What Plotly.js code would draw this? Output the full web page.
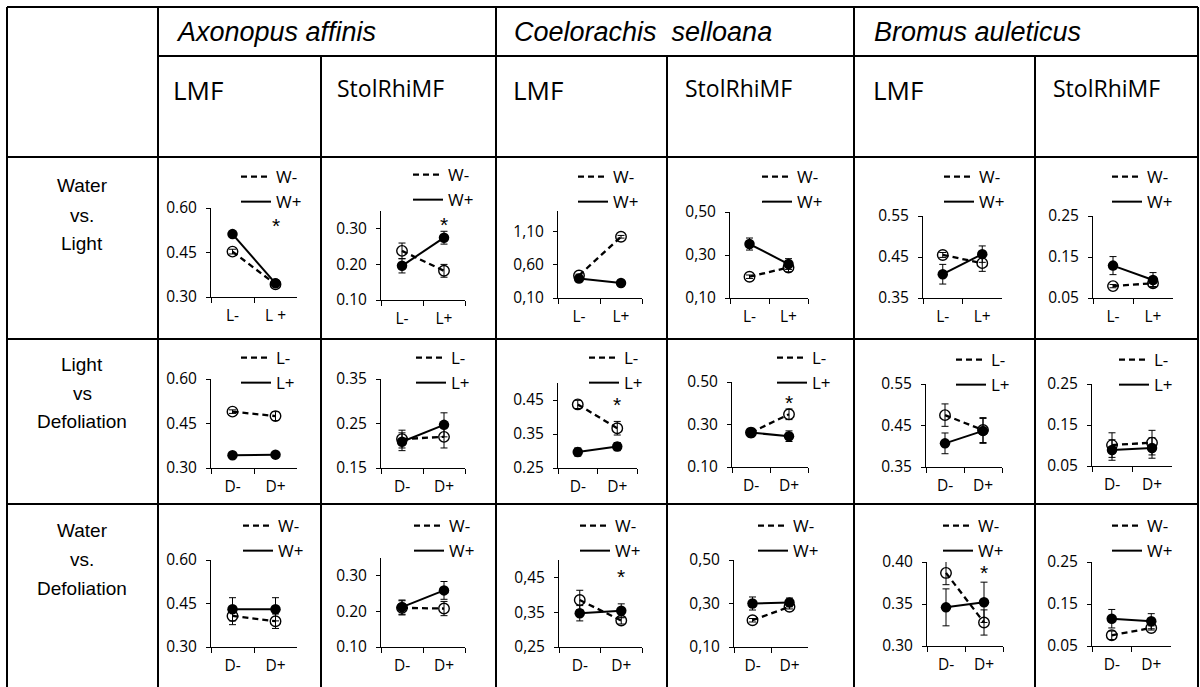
<!DOCTYPE html>
<html><head><meta charset="utf-8">
<script src="https://cdn.plot.ly/plotly-3.0.1.min.js"></script>
<style>html,body{margin:0;padding:0;background:#fff;} #chart{width:1200px;height:687px;}</style>
</head><body><div id="chart"></div>
<script>
// ================= DATA =================
const speciesNames = ['Axonopus affinis', 'Coelorachis\u00a0 selloana', 'Bromus auleticus'];
const traitNames = ['LMF', 'StolRhiMF', 'LMF', 'StolRhiMF', 'LMF', 'StolRhiMF'];
const rowLabelLines = [['Water', 'vs.', 'Light'], ['Light', 'vs', 'Defoliation'], ['Water', 'vs.', 'Defoliation']];

const lightCats = ['L-', 'L+'];
const lightCatsFirst = ['L-', 'L +'];
const defolCats = ['D-', 'D+'];
const waterLevels = ['W-', 'W+'];
const lightLevels = ['L-', 'L+'];

// Row 1: Water vs Light  (open/dashed = W-, filled/solid = W+)
const wlOpenMean   = [[0.453, 0.343], [0.238, 0.182], [0.436, 1.015], [0.199, 0.242], [0.455, 0.435], [0.079, 0.086]];
const wlOpenErr    = [[0.008, 0.005], [0.022, 0.018], [0.020, 0.020], [0.008, 0.020], [0.006, 0.020], [0.004, 0.008]];
const wlFilledMean = [[0.512, 0.346], [0.196, 0.275], [0.390, 0.325], [0.351, 0.258], [0.408, 0.457], [0.129, 0.094]];
const wlFilledErr  = [[0.010, 0.006], [0.020, 0.018], [0.020, 0.020], [0.028, 0.025], [0.024, 0.020], [0.022, 0.018]];

// Row 2: Light vs Defoliation  (open/dashed = L-, filled/solid = L+)
const ldOpenMean   = [[0.490, 0.475], [0.215, 0.220], [0.437, 0.367], [0.262, 0.348], [0.475, 0.439], [0.101, 0.107]];
const ldOpenErr    = [[0.006, 0.015], [0.020, 0.025], [0.012, 0.020], [0.015, 0.025], [0.027, 0.030], [0.030, 0.030]];
const ldFilledMean = [[0.343, 0.345], [0.209, 0.247], [0.297, 0.313], [0.262, 0.245], [0.407, 0.437], [0.089, 0.094]];
const ldFilledErr  = [[0.006, 0.006], [0.020, 0.027], [0.012, 0.012], [0.020, 0.025], [0.025, 0.030], [0.025, 0.025]];

// Row 3: Water vs Defoliation  (open/dashed = W-, filled/solid = W+)
const wdOpenMean   = [[0.407, 0.389], [0.210, 0.208], [0.385, 0.326], [0.223, 0.285], [0.387, 0.328], [0.0755, 0.093]];
const wdOpenErr    = [[0.030, 0.025], [0.020, 0.020], [0.028, 0.010], [0.008, 0.010], [0.014, 0.015], [0.010, 0.005]];
const wdFilledMean = [[0.430, 0.430], [0.212, 0.259], [0.347, 0.354], [0.300, 0.305], [0.346, 0.352], [0.115, 0.109]];
const wdFilledErr  = [[0.040, 0.040], [0.020, 0.025], [0.022, 0.020], [0.030, 0.020], [0.022, 0.024], [0.022, 0.018]];

// y axes (panels in reading order)
const yRanges = [[0.30,0.60],[0.10,0.35],[0.10,1.40],[0.10,0.50],[0.35,0.55],[0.05,0.25],
                 [0.30,0.60],[0.15,0.35],[0.25,0.50],[0.10,0.50],[0.35,0.55],[0.05,0.25],
                 [0.30,0.60],[0.10,0.35],[0.25,0.50],[0.10,0.50],[0.30,0.40],[0.05,0.25]];
const yTickVals = [[0.30,0.45,0.60],[0.10,0.20,0.30],[0.10,0.60,1.10],[0.10,0.30,0.50],[0.35,0.45,0.55],[0.05,0.15,0.25],
                   [0.30,0.45,0.60],[0.15,0.25,0.35],[0.25,0.35,0.45],[0.10,0.30,0.50],[0.35,0.45,0.55],[0.05,0.15,0.25],
                   [0.30,0.45,0.60],[0.10,0.20,0.30],[0.25,0.35,0.45],[0.10,0.30,0.50],[0.30,0.35,0.40],[0.05,0.15,0.25]];
const yTickText = [['0.30','0.45','0.60'],['0.10','0.20','0.30'],['0,10','0,60','1,10'],['0,10','0,30','0,50'],['0.35','0.45','0.55'],['0.05','0.15','0.25'],
                   ['0.30','0.45','0.60'],['0.15','0.25','0.35'],['0.25','0.35','0.45'],['0.10','0.30','0.50'],['0.35','0.45','0.55'],['0.05','0.15','0.25'],
                   ['0.30','0.45','0.60'],['0.10','0.20','0.30'],['0,25','0,35','0,45'],['0,10','0,30','0,50'],['0.30','0.35','0.40'],['0.05','0.15','0.25']];
// significance asterisks: panel index -> category index
const sigPanels = [0, 1, 8, 9, 14, 16];
const sigCategory = [1, 1, 1, 1, 1, 1];

// ================= LAYOUT CONFIG (pixels) =================
const W = 1200, H = 687;
const panelBox = [ // [x0, x1, yTop, yBottom]
  [211,297,208,297],[381,465,211,300],[558,642,211,298],[730,808,212,298],[923,1002,216,298],[1093,1173,216,298],
  [211,297,379,468],[381,465,379,468],[558,637,383,468],[732,808,382,467],[926,1002,384,467],[1092,1172,384,466],
  [211,297,560,647],[381,465,558,647],[559,642,560,647],[734,808,560,647],[927,1003,562,646],[1092,1171,562,646]];
const legendPos = [ // [dash end x, first item y]
  [271,179],[443,177],[608,179],[792,179],[974,179],[1142,179],
  [271,360],[446,360],[619,360],[807,360],[986,362],[1149,362],
  [273,528],[444,528],[610,528],[788,528],[973,528],[1142,528]];
const sigYFrac = [0.865, 0.90, 0.81, 0.82, 0.87, 0.94];

const colX = [7, 158, 321, 496, 667, 854, 1035, 1198];
const rowY = [7, 56, 157, 339, 504];
const rowLabelY = [[186,215,244],[364,393,422],[530,559,588]];

const px = v => v / W, py = v => 1 - v / H;
const tickFont = {family: 'Open Sans, sans-serif', size: 15.5, color: '#000'};

const traces = [];
const layout = {
  width: W, height: H, autosize: false,
  margin: {l:0, r:0, t:0, b:0},
  paper_bgcolor: '#fff', plot_bgcolor: 'rgba(0,0,0,0)',
  showlegend: true, shapes: [], annotations: [],
  font: {family: 'Open Sans, sans-serif', color: '#000'}
};

const rowsData = [
  {om: wlOpenMean, oe: wlOpenErr, fm: wlFilledMean, fe: wlFilledErr, levels: waterLevels},
  {om: ldOpenMean, oe: ldOpenErr, fm: ldFilledMean, fe: ldFilledErr, levels: lightLevels},
  {om: wdOpenMean, oe: wdOpenErr, fm: wdFilledMean, fe: wdFilledErr, levels: waterLevels}
];

for (let p = 0; p < 18; p++) {
  const r = Math.floor(p / 6), c = p % 6;
  const rd = rowsData[r];
  const cats = r === 0 ? (c === 0 ? lightCatsFirst : lightCats) : defolCats;
  const n = p + 1;
  const xa = n === 1 ? 'x' : 'x' + n, ya = n === 1 ? 'y' : 'y' + n;
  const legKey = n === 1 ? 'legend' : 'legend' + n;
  const b = panelBox[p];

  layout[(n === 1 ? 'xaxis' : 'xaxis' + n)] = {
    domain: [px(b[0]), px(b[1])], anchor: ya, type: 'category', categoryarray: cats,
    range: [-0.5, 1.5], showline: true, linecolor: '#000', linewidth: 1,
    ticks: 'outside', tickson: 'boundaries', ticklen: 5, tickcolor: '#000', tickwidth: 1,
    showgrid: false, zeroline: false, tickfont: tickFont, ticklabelstandoff: 4, fixedrange: true
  };
  layout[(n === 1 ? 'yaxis' : 'yaxis' + n)] = {
    domain: [py(b[3]), py(b[2])], anchor: xa, range: yRanges[p],
    tickmode: 'array', tickvals: yTickVals[p], ticktext: yTickText[p],
    showline: true, linecolor: '#000', linewidth: 1, ticks: 'outside', ticklen: 4,
    tickcolor: '#000', tickwidth: 1, showgrid: false, zeroline: false,
    tickfont: tickFont, ticklabelstandoff: 6, fixedrange: true
  };
  const lp = legendPos[p];
  layout[legKey] = {
    x: px(lp[0] - 35), y: py(lp[1] - 20), xanchor: 'left', yanchor: 'top',
    bgcolor: 'rgba(0,0,0,0)', borderwidth: 0, tracegroupgap: 0,
    font: {family: 'Open Sans, sans-serif', size: 17, color: '#000'},
    itemclick: false, itemdoubleclick: false
  };

  const om = rd.om[c], oe = rd.oe[c], fm = rd.fm[c], fe = rd.fe[c];
  traces.push({x: cats, y: om, xaxis: xa, yaxis: ya, mode: 'lines', name: rd.levels[0], legend: legKey,
    line: {color: '#000', width: 2.3, dash: '6px,4px'}, hoverinfo: 'skip'});
  traces.push({x: cats, y: fm, xaxis: xa, yaxis: ya, mode: 'lines', name: rd.levels[1], legend: legKey,
    line: {color: '#000', width: 2}, hoverinfo: 'skip'});
  traces.push({x: cats, y: om, xaxis: xa, yaxis: ya, mode: 'markers', showlegend: false, legend: legKey,
    marker: {symbol: 'circle-open', size: 10.5, color: '#000', line: {width: 1.4, color: '#000'}},
    error_y: {type: 'data', array: oe, visible: true, color: '#000', thickness: 1, width: 3.5}, hoverinfo: 'skip'});
  traces.push({x: cats, y: fm, xaxis: xa, yaxis: ya, mode: 'markers', showlegend: false, legend: legKey,
    marker: {symbol: 'circle', size: 10.5, color: '#000'},
    error_y: {type: 'data', array: fe, visible: true, color: '#000', thickness: 1, width: 3.5}, hoverinfo: 'skip'});
}

// significance asterisks
sigPanels.forEach((p, i) => {
  const n = p + 1;
  layout.annotations.push({
    xref: n === 1 ? 'x' : 'x' + n, yref: (n === 1 ? 'y' : 'y' + n) + ' domain',
    x: sigCategory[i], y: sigYFrac[i], text: '*', showarrow: false,
    font: {family: 'Liberation Sans, Arial, sans-serif', size: 21, color: '#000'},
    xanchor: 'center', yanchor: 'middle', yshift: -5
  });
});

// table grid
const gridLine = (x0, y0, x1, y1) => ({type: 'line', xref: 'paper', yref: 'paper',
  x0: px(x0), y0: py(y0), x1: px(x1), y1: py(y1), line: {color: '#000', width: 2}, layer: 'below'});
layout.shapes.push(gridLine(colX[0], rowY[0], colX[7], rowY[0]));
layout.shapes.push(gridLine(colX[1], rowY[1], colX[7], rowY[1]));
for (let k = 2; k < rowY.length; k++) layout.shapes.push(gridLine(colX[0], rowY[k], colX[7], rowY[k]));
[0, 1, 3, 5, 7].forEach(k => layout.shapes.push(gridLine(colX[k], rowY[0], colX[k], H)));
[2, 4, 6].forEach(k => layout.shapes.push(gridLine(colX[k], rowY[1], colX[k], H)));

// header texts
const speciesX = [174, 512, 872];
speciesNames.forEach((s, i) => layout.annotations.push({
  xref: 'paper', yref: 'paper', x: px(speciesX[i]), y: py(32), text: '<i>' + s + '</i>', showarrow: false,
  xanchor: 'left', yanchor: 'middle', font: {family: 'Liberation Sans, Arial, sans-serif', size: 27, color: '#000'}
}));
const traitX = [171, 335, 511, 683, 871, 1051];
traitNames.forEach((t, i) => layout.annotations.push({
  xref: 'paper', yref: 'paper', x: px(traitX[i]), y: py(i % 2 === 0 ? 90 : 88), text: t, showarrow: false,
  xanchor: 'left', yanchor: 'middle',
  font: {family: 'Open Sans, sans-serif', size: i % 2 === 0 ? 26 : 23, color: '#000'}
}));
rowLabelLines.forEach((lines, r) => lines.forEach((t, j) => layout.annotations.push({
  xref: 'paper', yref: 'paper', x: px(82), y: py(rowLabelY[r][j]), text: t, showarrow: false,
  xanchor: 'center', yanchor: 'middle', font: {family: 'Liberation Sans, Arial, sans-serif', size: 19, color: '#000'}
})));

Plotly.newPlot('chart', traces, layout, {staticPlot: true, displayModeBar: false});
</script>
</body></html>
